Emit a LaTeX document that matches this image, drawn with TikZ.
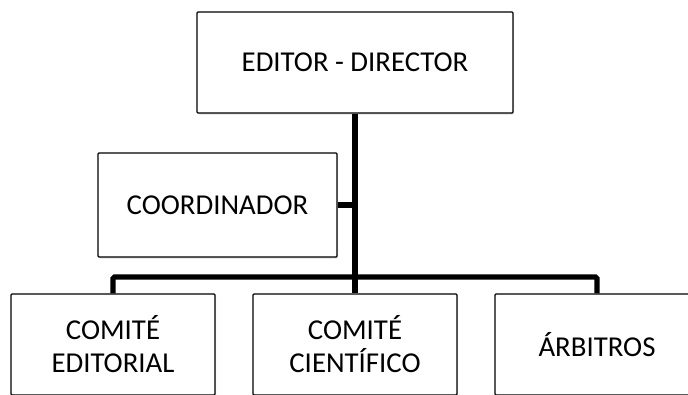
\documentclass[tikz,border=0pt]{standalone}
\usepackage{fontspec}
\setmainfont{Carlito}
\usetikzlibrary{shadows}
\tikzset{
  orgbox/.style = {draw = black, fill = white, line width = 1.2pt, rounded corners = 1pt,
    align = center, inner sep = 0pt, font = \fontsize{28.8}{33}\selectfont,
    drop shadow = {opacity = 0.25, shadow xshift = 1.2pt, shadow yshift = -1.5pt}},
  link/.style = {draw = black, line width = 5.2pt, rounded corners = 1.5pt}
}
\begin{document}
\begin{tikzpicture}[x = 1pt, y = -1pt]
\useasboundingbox (0,0) rectangle (688,394);
\pgfmathsetmacro\boxw{204};
\pgfmathsetmacro\boxh{101};
\node[orgbox, minimum width = 316pt, minimum height = 101pt] (dir) at (355,62.5) {EDITOR - DIRECTOR};
\node[orgbox, minimum width = 239pt, minimum height = 104pt] (coord) at (217.5,205) {COORDINADOR};
\node[orgbox, minimum width = \boxw pt, minimum height = \boxh pt] (edit) at (113,344.5) {COMITÉ\\EDITORIAL};
\node[orgbox, minimum width = \boxw pt, minimum height = \boxh pt] (cien) at (355,344.5) {COMITÉ\\CIENTÍFICO};
\node[orgbox, minimum width = \boxw pt, minimum height = \boxh pt] (arb) at (597,344.5) {ÁRBITROS};
\coordinate (bar) at (355,277);
\draw[link] (dir.south) -- (cien.north);
\draw[link] (coord.east) -- (coord.east -| dir.south);
\draw[link] (edit.north) |- (bar) -| (arb.north);
\end{tikzpicture}
\end{document}
